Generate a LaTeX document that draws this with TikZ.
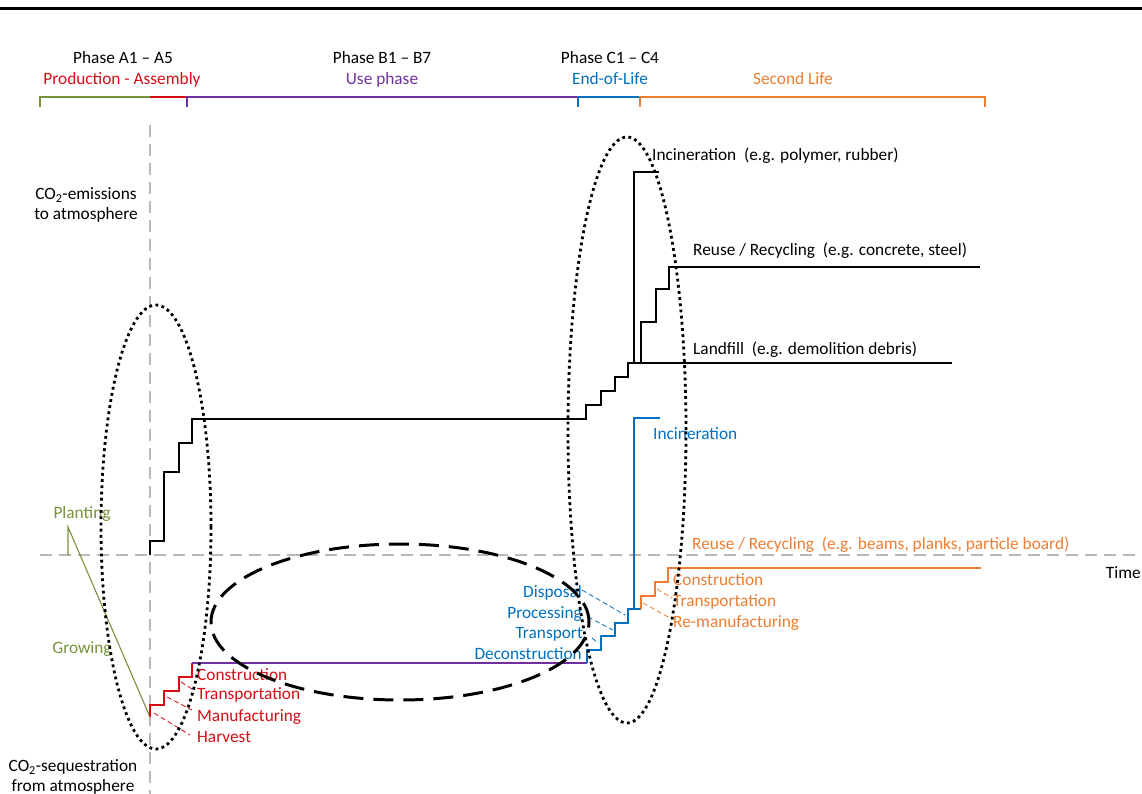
\documentclass[tikz,border=0pt]{standalone}
\usepackage{fontspec}
\setmainfont{Carlito}
\definecolor{cgreen}{RGB}{118,146,60}
\definecolor{cred}{RGB}{214,12,22}
\definecolor{cpurple}{RGB}{112,48,160}
\definecolor{cblue}{RGB}{0,112,192}
\definecolor{corange}{RGB}{237,125,49}
\definecolor{cgray}{RGB}{185,185,185}
\tikzset{
  lbl/.style={inner sep=0pt, font=\fontsize{17.3}{20}\selectfont, text height=11.8pt, text depth=0pt},
  mlbl/.style={inner sep=0pt, font=\fontsize{17.3}{20}\selectfont, align=center},
  stair/.style={line width=1.3pt, line join=miter},
  brk/.style={line width=1.3pt},
  leader/.style={line width=0.8pt, dash pattern=on 5pt off 3pt},
  axisline/.style={cgray, line width=1.6pt, dash pattern=on 12pt off 7pt},
  dotring/.style={line width=2.8pt, dash pattern=on 2.8pt off 3.4pt},
  dashring/.style={line width=3pt, dash pattern=on 20pt off 10pt}
}
\begin{document}
\begin{tikzpicture}[x=1pt,y=-1pt]
\useasboundingbox (0,0) rectangle (1142,794);
% top rule
\draw[line width=3pt] (0,9) -- (1142,9);
% headers
\node[lbl] (pa) at (123,58) {Phase A1 – A5};
\node[lbl] (pb) at (382,58) {Phase B1 – B7};
\node[lbl] (pc) at (610,58) {Phase C1 – C4};
\node[lbl, text=cred] (ha) at (122,79) {Production - Assembly};
\node[lbl, text=cpurple] (hb) at (382,79) {Use phase};
\node[lbl, text=cblue] (hc) at (610,79) {End-of-Life};
\node[lbl, text=corange] (hd) at (793,79) {Second Life};
% brackets
\draw[brk, cgreen] (40,107) -- (40,97) -- (150,97);
\draw[brk, cred] (150,97) -- (187,97);
\draw[brk, cpurple] (187,107) -- (187,97) -- (578,97);
\draw[brk, cblue] (578,107) -- (578,97) -- (640,97);
\draw[brk, corange] (640,107) -- (640,97) -- (985,97) -- (985,107);
% axes
\draw[axisline] (150,125) -- (150,794);
\draw[axisline] (40,555) -- (1142,555);
% axis labels
\node[mlbl] (emis) at (86,205) {CO\textsubscript{2}-emissions\\to atmosphere};
\node[mlbl] (seq) at (73,777) {CO\textsubscript{2}-sequestration\\from atmosphere};
\node[lbl, anchor=east] (time) at (1141,573) {Time};
% black staircases
\draw[stair] (150,555) -- (150,541) -- (164,541) -- (164,472) -- (179,472) -- (179,443) -- (192,443) -- (192,419) -- (586,419) -- (586,405) -- (601,405) -- (601,391) -- (615,391) -- (615,377) -- (628,377) -- (628,363) -- (952,363);
\draw[stair] (634,363) -- (634,172) -- (659,172);
\draw[stair] (641,363) -- (641,322) -- (656,322) -- (656,289) -- (669,289) -- (669,267) -- (980,267);
\node[lbl, anchor=west] (inc) at (652,155) {Incineration~ (e.g. polymer, rubber)};
\node[lbl, anchor=west] (reu) at (693,250) {Reuse / Recycling~ (e.g. concrete, steel)};
\node[lbl, anchor=west] (lan) at (693,349) {Landfill~ (e.g. demolition debris)};
% green
\draw[stair, cgreen, line width=1.1pt] (68,555) -- (68,527) -- (150,717);
\node[lbl, text=cgreen] (plant) at (82,513) {Planting};
\node[lbl, text=cgreen] (grow) at (82,648) {Growing};
% red
\draw[stair, cred] (150,717) -- (150,705) -- (164,705) -- (164,691) -- (179,691) -- (179,677) -- (192,677) -- (192,663);
\draw[stair, cpurple, line width=1.1pt] (192,663) -- (587,663);
\draw[leader, cred] (154,713) -- (190,735);
\draw[leader, cred] (167,697) -- (192,710);
\draw[leader, cred] (181,682) -- (192,689);
\node[lbl, anchor=west, text=cred] (rc) at (197,675) {Construction};
\node[lbl, anchor=west, text=cred] (rt) at (197,694) {Transportation};
\node[lbl, anchor=west, text=cred] (rm) at (197,716) {Manufacturing};
\node[lbl, anchor=west, text=cred] (rh) at (197,737) {Harvest};
% blue
\draw[stair, cblue] (587,663) -- (587,650) -- (601,650) -- (601,636) -- (615,636) -- (615,623) -- (628,623) -- (628,609) -- (641,609);
\draw[stair, cblue] (634,609) -- (634,418) -- (660,418);
\draw[leader, cblue] (582,590) -- (625,615);
\draw[leader, cblue] (588,617) -- (613,630);
\draw[leader, cblue] (592,638) -- (598,643);
\node[lbl, anchor=east, text=cblue] (bd) at (582,592) {Disposal};
\node[lbl, anchor=east, text=cblue] (bp) at (582,613) {Processing};
\node[lbl, anchor=east, text=cblue] (bt) at (583,633) {Transport};
\node[lbl, anchor=east, text=cblue] (bc) at (582,654) {Deconstruction};
\node[lbl, anchor=west, text=cblue] (bi) at (653,434) {Incineration};
% orange
\draw[stair, corange] (641,609) -- (641,596) -- (655,596) -- (655,582) -- (668,582) -- (668,568) -- (981,568);
\draw[leader, corange] (657,589) -- (672,598);
\draw[leader, corange] (643,603) -- (670,618);
\node[lbl, anchor=west, text=corange] (orr) at (692,544) {Reuse / Recycling~ (e.g. beams, planks, particle board)};
\node[lbl, anchor=west, text=corange] (oc) at (673,580) {Construction};
\node[lbl, anchor=west, text=corange] (ot) at (673,601) {Transportation};
\node[lbl, anchor=west, text=corange] (om) at (673,622) {Re-manufacturing};
% rings
\draw[dotring] (156,527) ellipse [x radius=55pt, y radius=222pt];
\draw[dotring] (627,430) ellipse [x radius=59pt, y radius=293pt];
\draw[dashring] (400,622) ellipse [x radius=189pt, y radius=78pt];
\end{tikzpicture}
\end{document}
